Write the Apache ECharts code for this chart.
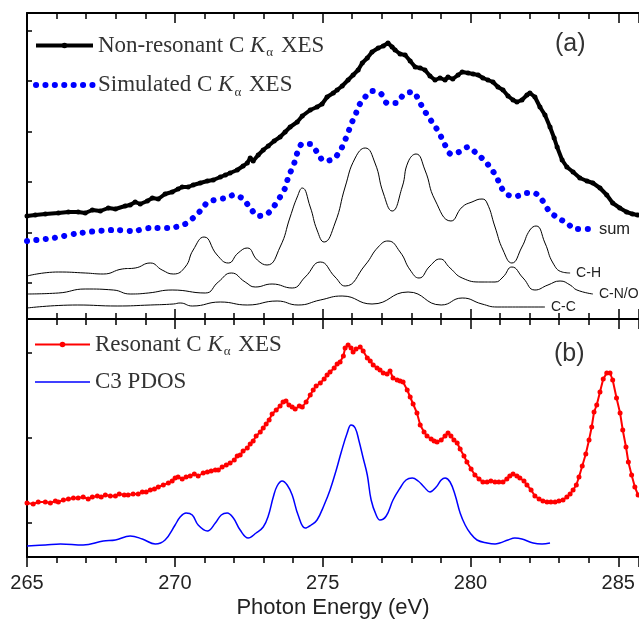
<!DOCTYPE html>
<html>
<head>
<meta charset="utf-8">
<script src="https://cdn.jsdelivr.net/npm/echarts@6/dist/echarts.min.js"></script>
<style>html,body{margin:0;padding:0;background:#fff;}#chart{width:639px;height:623px;}</style>
</head>
<body>
<div id="chart"></div>
<script>
// photon energy (eV), intensity (a.u.) -- panel (a)
var nonResonant = [[265.0,10.3],[265.28,10.4],[265.62,10.5],[266.06,10.6],[266.4,10.7],[266.73,10.7],[266.97,10.6],
  [267.21,10.9],[267.48,10.8],[267.75,11.1],[267.99,11.0],[268.32,11.3],[268.49,11.4],[268.66,11.7],[268.83,11.5],
  [269.07,11.8],[269.24,12.1],[269.44,12.0],[269.67,12.5],[269.91,12.7],[270.11,13.0],[270.25,13.2],[270.45,13.2],
  [270.62,13.4],[270.86,13.6],[271.1,13.8],[271.3,13.9],[271.54,14.2],[271.71,14.4],[271.87,14.6],[272.11,14.9],
  [272.31,15.3],[272.45,15.6],[272.55,16.1],[272.65,15.8],[272.82,16.4],[272.99,16.9],[273.16,17.3],[273.36,17.8],
  [273.56,18.2],[273.73,18.7],[273.9,19.2],[274.14,19.7],[274.31,20.3],[274.58,20.9],[274.81,21.2],[274.98,21.5],
  [275.15,22.2],[275.36,22.6],[275.49,22.9],[275.66,23.3],[275.86,23.9],[276.03,24.4],[276.2,24.9],[276.34,25.6],
  [276.51,26.1],[276.67,26.7],[276.88,27.1],[277.05,27.3],[277.21,27.6],[277.35,27.2],[277.45,26.9],[277.62,26.5],
  [277.79,26.4],[277.96,25.8],[278.13,25.2],[278.3,25.1],[278.46,24.9],[278.63,24.3],[278.8,23.9],[278.97,24.1],
  [279.14,23.9],[279.24,24.2],[279.4,24.0],[279.58,24.4],[279.72,24.7],[279.92,24.6],[280.09,24.5],[280.26,24.4],
  [280.42,24.1],[280.59,23.9],[280.76,23.7],[280.93,23.2],[281.1,22.9],[281.27,22.3],[281.44,21.9],[281.57,21.7],
  [281.74,21.9],[281.91,22.4],[282.01,22.6],[282.18,22.2],[282.35,21.2],[282.52,20.4],[282.69,19.2],[282.83,18.1],
  [282.93,17.2],[283.1,15.9],[283.26,15.2],[283.47,14.7],[283.7,14.1],[283.94,13.8],[284.14,13.6],[284.38,13.1],
  [284.61,12.4],[284.81,11.6],[285.05,11.1],[285.28,10.7],[285.48,10.5],[285.65,10.4]];

var simulated = [[265.0,7.8],[265.89,8.1],[266.8,8.6],[267.99,8.9],[268.56,8.8],[269.17,9.1],[269.78,9.1],[270.35,9.5],
  [270.62,10.1],[270.89,10.9],[271.13,11.7],[271.71,12.1],[272.01,12.4],[272.31,12.0],[272.55,11.1],[272.82,10.3],
  [273.12,10.5],[273.36,11.3],[273.56,12.2],[273.73,13.1],[273.83,14.1],[274.04,15.6],[274.14,16.6],[274.31,17.5],
  [274.58,17.5],[274.81,16.7],[275.05,15.8],[275.36,16.0],[275.59,16.8],[275.73,17.7],[275.86,18.6],[275.96,19.5],
  [276.1,20.3],[276.2,21.2],[276.41,22.1],[276.67,22.8],[276.98,22.5],[277.18,21.6],[277.48,21.6],[277.76,22.5],
  [278.06,22.7],[278.26,21.8],[278.43,20.9],[278.63,20.0],[278.84,19.1],[279.01,18.2],[279.14,17.4],[279.34,16.5],
  [279.61,16.7],[279.92,17.2],[280.22,16.5],[280.49,15.8],[280.73,14.9],[280.9,14.1],[281.03,13.2],[281.27,12.4],
  [281.57,12.3],[281.88,12.6],[282.15,12.6],[282.42,11.9],[282.66,10.8],[282.96,10.1],[283.26,9.6],[283.54,9.0],
  [284.14,9.0]];

var cH = [[265.0,4.3],[266.06,4.7],[266.97,4.6],[267.58,4.5],[268.22,5.0],[268.66,5.1],[269.17,5.6],[269.57,4.9],
  [269.95,4.5],[270.35,5.2],[270.62,6.9],[270.99,8.2],[271.43,6.4],[271.81,5.6],[272.14,6.6],[272.45,7.1],
  [272.79,5.9],[273.12,5.4],[273.56,7.2],[273.9,10.2],[274.14,12.2],[274.31,13.1],[274.58,11.2],[274.81,8.9],
  [275.05,7.7],[275.42,9.6],[275.76,13.2],[276.1,16.1],[276.44,17.1],[276.77,15.6],[277.05,12.6],[277.35,10.8],
  [277.69,13.2],[277.89,15.7],[278.16,16.5],[278.46,14.9],[278.8,11.9],[279.34,9.8],[279.72,11.2],[280.05,11.7],
  [280.39,12.0],[280.56,11.6],[280.83,9.2],[281.1,6.9],[281.4,5.6],[281.74,7.2],[282.01,8.9],[282.22,9.3],
  [282.52,7.6],[282.79,5.6],[283.1,4.7],[283.37,4.6]];

var cNO = [[265.0,2.5],[266.06,2.6],[266.97,3.0],[267.92,2.9],[268.49,2.5],[269.1,2.6],[269.91,2.9],[271.03,2.6],
  [271.47,3.7],[271.91,4.6],[272.38,3.7],[272.72,3.2],[273.29,3.5],[273.97,3.1],[274.41,4.2],[274.92,5.7],
  [275.42,4.2],[275.76,3.3],[276.44,5.4],[276.88,7.2],[277.21,7.8],[277.62,6.7],[277.96,4.9],[278.26,4.1],
  [278.63,5.3],[278.97,6.0],[279.31,5.1],[279.72,4.1],[280.39,3.7],[280.83,3.7],[281.1,4.2],[281.4,5.2],
  [281.78,4.1],[282.18,2.9],[282.62,3.4],[283.03,3.8],[283.37,3.4],[283.6,2.9],[284.14,2.5]];

var cC = [[265.0,1.1],[266.7,1.4],[268.05,1.3],[269.17,1.4],[269.95,1.5],[270.18,1.6],[270.59,1.3],[271.54,1.7],
  [272.45,1.4],[273.46,1.8],[274.17,1.4],[274.92,1.9],[275.66,2.3],[276.67,1.5],[277.89,2.7],[279.01,1.4],
  [279.72,2.1],[280.39,1.5],[280.9,1.2],[281.78,1.2],[282.52,1.2]];

// panel (b)
var resonant = [[265.0,5.4],[265.21,5.3],[265.38,5.5],[265.62,5.5],[265.79,5.4],[265.96,5.6],[266.06,5.5],[266.23,5.7],
  [266.4,5.8],[266.57,5.9],[266.73,5.9],[266.9,6.0],[267.07,5.8],[267.21,6.0],[267.38,6.1],[267.51,6.0],[267.65,6.2],
  [267.82,6.1],[267.99,6.1],[268.12,6.3],[268.29,6.2],[268.42,6.2],[268.59,6.3],[268.76,6.3],[268.9,6.5],[269.03,6.5],
  [269.17,6.7],[269.31,6.8],[269.44,7.0],[269.61,7.2],[269.78,7.4],[269.91,7.6],[270.01,7.9],[270.11,8.0],[270.25,7.8],
  [270.38,8.0],[270.52,8.1],[270.66,8.3],[270.79,8.1],[270.96,8.4],[271.1,8.5],[271.23,8.6],[271.37,8.7],[271.47,8.7],
  [271.6,9.0],[271.74,9.2],[271.87,9.4],[272.01,9.7],[272.11,10.1],[272.21,10.2],[272.31,10.6],[272.45,10.9],
  [272.55,11.3],[272.65,11.6],[272.75,12.1],[272.89,12.5],[272.99,12.9],[273.09,13.3],[273.19,13.7],[273.29,14.3],
  [273.43,14.7],[273.56,15.1],[273.66,15.5],[273.76,15.6],[273.86,15.2],[273.97,15.0],[274.07,14.8],[274.21,15.1],
  [274.31,15.0],[274.44,15.5],[274.58,16.2],[274.68,16.7],[274.78,17.1],[274.92,17.4],[275.05,17.8],[275.15,18.2],
  [275.25,18.5],[275.39,18.9],[275.49,19.3],[275.59,19.5],[275.7,20.1],[275.76,20.9],[275.86,21.2],[275.96,20.9],
  [276.03,20.5],[276.13,20.8],[276.27,21.0],[276.37,20.6],[276.51,19.9],[276.61,19.6],[276.71,19.2],[276.84,18.9],
  [276.94,18.7],[277.05,18.4],[277.18,18.3],[277.28,18.6],[277.38,17.9],[277.52,17.7],[277.62,17.6],[277.72,17.5],
  [277.86,16.7],[277.96,16.0],[278.06,15.3],[278.19,14.4],[278.3,13.2],[278.43,12.5],[278.53,12.1],[278.67,11.8],
  [278.77,11.6],[278.87,11.5],[279.01,11.7],[279.14,12.1],[279.24,12.4],[279.34,12.1],[279.44,11.7],[279.55,11.4],
  [279.65,10.8],[279.78,10.1],[279.88,9.5],[280.02,8.8],[280.15,8.2],[280.29,7.8],[280.42,7.5],[280.56,7.5],
  [280.69,7.6],[280.83,7.5],[280.96,7.5],[281.1,7.5],[281.23,7.8],[281.33,8.1],[281.44,8.3],[281.57,8.1],[281.67,7.9],
  [281.81,7.6],[281.91,7.2],[282.05,6.7],[282.18,6.1],[282.32,5.8],[282.45,5.6],[282.59,5.5],[282.72,5.5],[282.86,5.5],
  [282.99,5.6],[283.13,5.7],[283.26,6.0],[283.37,6.3],[283.47,6.7],[283.58,7.2],[283.67,8.0],[283.78,9.1],[283.9,10.3],
  [284.01,11.7],[284.1,13.0],[284.18,14.5],[284.27,15.2],[284.38,16.5],[284.49,17.8],[284.61,18.4],[284.72,18.4],
  [284.81,17.7],[284.94,15.9],[285.06,14.4],[285.15,12.7],[285.26,11.0],[285.34,9.5],[285.45,8.2],[285.56,7.0],
  [285.67,6.2]];

var c3Pdos = [[265.0,1.1],[265.62,1.2],[266.13,1.3],[266.9,1.2],[267.58,1.6],[267.99,1.7],[268.49,2.1],[268.9,1.8],
  [269.34,1.3],[269.67,1.7],[270.01,3.2],[270.18,4.0],[270.38,4.4],[270.59,4.2],[270.79,3.2],[271.1,2.6],[271.37,3.4],
  [271.57,4.2],[271.77,4.4],[271.98,3.9],[272.21,2.7],[272.48,1.9],[272.75,2.4],[272.99,3.0],[273.16,4.1],[273.33,6.0],
  [273.46,7.1],[273.63,7.6],[273.8,7.2],[273.97,6.2],[274.17,4.2],[274.41,2.9],[274.61,3.2],[274.81,3.7],[275.05,5.2],
  [275.25,6.7],[275.46,8.7],[275.63,10.5],[275.83,12.4],[275.96,13.2],[276.1,12.9],[276.23,11.6],[276.37,9.9],
  [276.51,8.2],[276.64,5.7],[276.81,4.2],[276.94,3.7],[277.15,4.1],[277.38,5.7],[277.62,6.9],[277.82,7.7],[278.03,7.9],
  [278.23,7.6],[278.43,7.0],[278.63,6.5],[278.84,7.0],[279.01,7.7],[279.14,7.9],[279.31,7.5],[279.48,6.2],[279.65,4.4],
  [279.82,3.2],[279.99,2.4],[280.22,1.7],[280.56,1.4],[280.83,1.3],[280.99,1.4],[281.27,1.7],[281.5,1.9],[281.74,1.8],
  [282.12,1.4],[282.42,1.3],[282.69,1.4]];

var yTicksA = [3.6, 8.65, 13.7, 18.75, 23.8, 28.85];
var yTicksB = [3.4, 11.9, 20.4];

// legend text with italic K and subscript alpha
var legendText = {
  'Non-resonant C Kα XES': '{n|Non-resonant C }{k|K}{a|α}{n| XES}',
  'Simulated C Kα XES': '{n|Simulated C }{k|K}{a|α}{n| XES}',
  'Resonant C Kα XES': '{n|Resonant C }{k|K}{a|α}{n| XES}',
  'C3 PDOS': '{n|C3 PDOS}'
};
var legendRich = {
  n: {fontFamily: 'Liberation Serif', fontSize: 23, color: '#333', lineHeight: 28},
  k: {fontFamily: 'Liberation Serif', fontSize: 23, fontStyle: 'italic', color: '#333', lineHeight: 28},
  a: {fontFamily: 'Liberation Serif', fontSize: 13, color: '#333', padding: [15, 2, 0, 1]}
};

var dots = {color: '#0000ff', width: 6, type: [0.1, 9.3], cap: 'round'};
var xMin = 265, xMax = 285.7;

function xAxis(grid, pos, showLabel, inside) {
  var ax = {
    type: 'value', gridIndex: grid, position: pos, min: xMin, max: xMax, interval: 5,
    axisLine: {show: true, onZero: false, lineStyle: {color: '#000', width: 2}},
    axisTick: {show: true, inside: inside, length: 10, lineStyle: {color: '#000', width: 1.5}},
    minorTick: {show: true, splitNumber: 5, length: 6, lineStyle: {color: '#000', width: 1.5}},
    axisLabel: {show: showLabel, showMaxLabel: false, fontFamily: 'Liberation Sans', fontSize: 20, color: '#222', margin: 16},
    splitLine: {show: false}
  };
  if (showLabel) {
    ax.name = 'Photon Energy (eV)';
    ax.nameLocation = 'middle';
    ax.nameGap = 40;
    ax.nameTextStyle = {fontFamily: 'Liberation Sans', fontSize: 22, color: '#222'};
  }
  return ax;
}

function yAxis(grid, max, ticks) {
  return {
    type: 'value', gridIndex: grid, min: 0, max: max,
    axisLine: {show: true, lineStyle: {color: '#000', width: 2}},
    axisTick: {show: true, inside: true, length: 5, customValues: ticks, lineStyle: {color: '#000', width: 1.5}},
    axisLabel: {show: false},
    splitLine: {show: false}
  };
}

function thin(name, data, label) {
  return {
    name: name, type: 'line', xAxisIndex: 0, yAxisIndex: 0, data: data, smooth: 0.5,
    showSymbol: false, lineStyle: {color: '#000', width: 1},
    endLabel: {show: true, formatter: label, distance: 6, fontFamily: 'Liberation Sans', fontSize: 14, color: '#222'},
    z: 2
  };
}

var noSymbol = {opacity: 0};

var chart = echarts.init(document.getElementById('chart'));
chart.setOption({
  animation: false,
  backgroundColor: '#fff',
  grid: [
    {left: 27, right: 0, top: 13, height: 306},
    {left: 27, right: 0, top: 319, height: 238}
  ],
  xAxis: [
    xAxis(0, 'bottom', false, true),
    xAxis(0, 'top', false, true),
    xAxis(1, 'top', false, true),
    xAxis(1, 'bottom', true, false)
  ],
  yAxis: [yAxis(0, 30.6, yTicksA), yAxis(1, 23.8, yTicksB)],
  legend: [
    {data: [{name: 'Non-resonant C Kα XES', lineStyle: {width: 4}},
            {name: 'Simulated C Kα XES', itemStyle: noSymbol, lineStyle: dots}],
      orient: 'vertical', left: 28, top: 29,
      itemWidth: 57, itemHeight: 7, itemGap: 14, selectedMode: false,
      formatter: function (n) { return legendText[n]; }, textStyle: {rich: legendRich}},
    {data: [{name: 'Resonant C Kα XES', lineStyle: {width: 2}}, {name: 'C3 PDOS', itemStyle: noSymbol, lineStyle: {width: 1.5}}],
      orient: 'vertical', left: 29, top: 328,
      itemWidth: 55, itemHeight: 7, itemGap: 12, selectedMode: false,
      formatter: function (n) { return legendText[n]; }, textStyle: {rich: legendRich}}
  ],
  graphic: [
    {type: 'text', left: 555, top: 32, style: {text: '(a)', fontFamily: 'Liberation Sans', fontSize: 25, fill: '#333'}},
    {type: 'text', left: 554, top: 342, style: {text: '(b)', fontFamily: 'Liberation Sans', fontSize: 25, fill: '#333'}}
  ],
  series: [
    thin('C-C', cC, 'C-C'),
    thin('C-N/O', cNO, 'C-N/O'),
    thin('C-H', cH, 'C-H'),
    {
      name: 'Simulated C Kα XES', type: 'line', xAxisIndex: 0, yAxisIndex: 0, data: simulated, smooth: 0.3,
      showSymbol: false, symbol: 'none', lineStyle: dots, itemStyle: {color: '#0000ff'},
      endLabel: {show: true, formatter: 'sum', distance: 6, fontFamily: 'Liberation Sans', fontSize: 16.5, color: '#222'},
      z: 3
    },
    {
      name: 'Non-resonant C Kα XES', type: 'line', xAxisIndex: 0, yAxisIndex: 0, data: nonResonant,
      symbol: 'circle', symbolSize: 5, showSymbol: true,
      lineStyle: {color: '#000', width: 4}, itemStyle: {color: '#000'}, z: 4
    },
    {
      name: 'Resonant C Kα XES', type: 'line', xAxisIndex: 3, yAxisIndex: 1, data: resonant,
      symbol: 'circle', symbolSize: 5, showSymbol: true,
      lineStyle: {color: '#ff0000', width: 2}, itemStyle: {color: '#ff0000'}, z: 4
    },
    {
      name: 'C3 PDOS', type: 'line', xAxisIndex: 3, yAxisIndex: 1, data: c3Pdos, smooth: 0.4,
      showSymbol: false, symbol: 'none',
      lineStyle: {color: '#0000ff', width: 1.5}, itemStyle: {color: '#0000ff'}, z: 3
    }
  ]
});
</script>
</body>
</html>
